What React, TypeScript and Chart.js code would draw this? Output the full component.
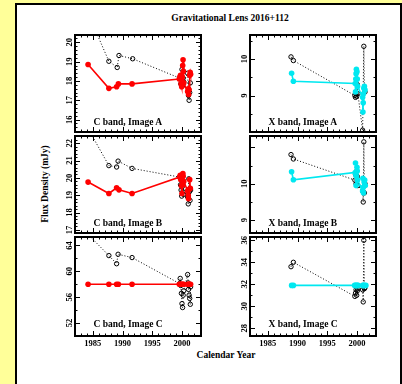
import React, { useEffect, useRef } from "react";
import { Chart, registerables } from "chart.js";

Chart.register(...registerables);

// ---------- tick labels ----------
const xTickYears = [1985, 1990, 1995, 2000];
const caTicks = [16, 17, 18, 19, 20];
const cbTicks = [17, 18, 19, 20, 21, 22];
const ccTicks = [52, 56, 60, 64];
const xaTicks = [9, 10];
const xbTicks = [9, 10];
const xcTicks = [28, 30, 32, 34, 36];

// ---------- C band, image A ----------
const caFitYears = [1984.2, 1987.7, 1989.0, 1989.3, 1991.6, 1999.55, 1999.65, 1999.75, 1999.85, 1999.95, 2000.05, 2000.12, 2000.18, 2000.25, 2000.3, 2000.95, 2001.05, 2001.12, 2001.2, 2001.3, 2001.38, 2001.45];
const caFitFlux = [18.85, 17.62, 17.7, 17.85, 17.85, 18.1, 18.2, 18.3, 17.85, 17.7, 18.2, 18.8, 19.1, 18.5, 17.9, 17.45, 17.6, 17.3, 17.55, 18.3, 18.45, 18.35];
const caObsYears = [1984.2, 1987.7, 1989.1, 1989.4, 1991.7, 1999.6, 1999.8, 2000.0, 2000.1, 2000.2, 2000.3, 2000.95, 2001.05, 2001.1, 2001.2, 2001.3, 2001.4];
const caObsFlux = [21.5, 19.02, 18.7, 19.32, 19.15, 18.15, 17.85, 18.6, 17.75, 18.15, 17.95, 18.4, 17.45, 17.25, 17.0, 17.4, 17.9];

// ---------- C band, image B ----------
const cbFitYears = [1984.2, 1987.7, 1989.0, 1989.4, 1991.6, 1999.6, 1999.7, 1999.8, 1999.9, 2000.0, 2000.1, 2000.15, 2000.2, 2000.3, 2000.95, 2001.05, 2001.1, 2001.2, 2001.3, 2001.4];
const cbFitFlux = [19.76, 19.1, 19.43, 19.31, 19.1, 20.05, 20.15, 19.9, 19.55, 19.1, 19.6, 20.25, 20.1, 19.8, 19.25, 19.0, 18.8, 19.35, 19.9, 19.4];
const cbObsYears = [1984.2, 1987.7, 1989.0, 1989.25, 1991.6, 1999.6, 1999.75, 1999.85, 1999.95, 2000.05, 2000.15, 2000.25, 2000.95, 2001.05, 2001.15, 2001.25, 2001.35, 2001.45];
const cbObsFlux = [22.85, 20.71, 20.63, 20.97, 20.55, 20.05, 19.6, 19.3, 18.95, 19.5, 19.2, 19.05, 18.9, 18.5, 19.95, 19.2, 18.7, 19.3];

// ---------- C band, image C ----------
const ccFitYears = [1984.2, 1987.7, 1989.0, 1989.3, 1991.6, 1999.55, 1999.7, 1999.85, 2000.0, 2000.15, 2000.3, 2000.95, 2001.1, 2001.25, 2001.45];
const ccFitFlux = [58.0, 58.0, 58.0, 58.0, 58.0, 58.0, 58.0, 58.0, 58.0, 58.0, 58.0, 58.0, 58.0, 58.0, 58.0];
const ccObsYears = [1984.2, 1987.7, 1989.0, 1989.25, 1991.6, 1999.6, 1999.7, 1999.8, 1999.9, 2000.0, 2000.1, 2000.2, 2000.3, 2000.95, 2001.05, 2001.1, 2001.2, 2001.3, 2001.4, 2001.45];
const ccObsFlux = [65.7, 62.43, 61.17, 62.63, 62.12, 58.1, 58.9, 57.8, 56.6, 55.0, 54.4, 56.3, 57.0, 59.5, 58.2, 57.2, 56.3, 55.8, 54.9, 57.6];

// ---------- X band, image A ----------
const xaFitYears = [1989.0, 1989.3, 1999.7, 1999.75, 1999.8, 1999.85, 1999.9, 2000.0, 2000.05, 2000.1, 2000.95, 2001.0, 2001.05, 2001.1, 2001.15, 2001.25, 2001.35];
const xaFitFlux = [9.61, 9.39, 9.33, 9.1, 9.45, 9.6, 9.72, 9.65, 9.45, 9.25, 8.95, 8.55, 8.8, 9.05, 9.2, 9.25, 9.15];
const xaObsYears = [1988.9, 1989.3, 1999.65, 1999.75, 1999.85, 1999.95, 2000.05, 2000.15, 2000.95, 2001.15, 2001.25, 2001.35];
const xaObsFlux = [10.06, 9.96, 9.0, 8.95, 9.05, 8.98, 9.3, 9.05, 8.05, 10.35, 9.2, 9.1];

// ---------- X band, image B ----------
const xbFitYears = [1989.0, 1989.3, 1999.7, 1999.75, 1999.8, 1999.85, 1999.9, 2000.0, 2000.05, 2000.1, 2000.95, 2001.0, 2001.05, 2001.1, 2001.2, 2001.3, 2001.4];
const xbFitFlux = [10.33, 10.11, 10.31, 10.57, 10.25, 9.95, 10.2, 10.45, 10.35, 10.1, 9.8, 10.15, 9.9, 9.75, 10.05, 10.1, 9.95];
const xbObsYears = [1988.9, 1989.3, 1999.65, 1999.75, 1999.85, 1999.95, 2000.05, 2000.15, 2000.95, 2001.05, 2001.15, 2001.25, 2001.35];
const xbObsFlux = [10.8, 10.68, 10.1, 10.25, 10.0, 10.35, 10.2, 9.95, 9.8, 9.5, 11.15, 9.75, 10.0];

// ---------- X band, image C ----------
const xcFitYears = [1989.0, 1989.3, 1999.6, 1999.75, 1999.9, 2000.05, 2000.2, 2000.95, 2001.1, 2001.25, 2001.5];
const xcFitFlux = [31.9, 31.9, 31.9, 31.9, 31.9, 31.9, 31.9, 31.9, 31.9, 31.9, 31.9];
const xcObsYears = [1988.9, 1989.3, 1999.65, 1999.75, 1999.85, 1999.95, 2000.05, 2000.15, 2000.95, 2001.05, 2001.15, 2001.25, 2001.35];
const xcObsFlux = [33.6, 34.0, 30.9, 31.2, 31.5, 31.0, 31.4, 31.6, 31.5, 30.4, 36.0, 31.6, 31.7];

// ---------- layout / style ----------
const FONT = "'Liberation Serif', 'Times New Roman', serif";
const RED = "#ff0000";
const CYAN = "#00e8f0";
const PLOT_W = 128;
const PLOT_H = 101;
const COL_LEFT = [75, 250];
const ROW_TOP = [33, 134, 235];
const AXIS_W = 30;
const X_MIN = 1982;
const X_MAX = 2003.2;

type Panel = {
  col: number;
  row: number;
  yMin: number;
  yMax: number;
  yTicks: number[];
  minorY: number;
  majorY: number;
  color: string;
  label: string;
  fitYears: number[];
  fitFlux: number[];
  obsYears: number[];
  obsFlux: number[];
};

const panels: Panel[] = [
  { col: 0, row: 0, yMin: 15.36, yMax: 20.38, yTicks: caTicks, minorY: 0.2, majorY: 1, color: RED, label: "C band, Image A", fitYears: caFitYears, fitFlux: caFitFlux, obsYears: caObsYears, obsFlux: caObsFlux },
  { col: 0, row: 1, yMin: 16.82, yMax: 22.42, yTicks: cbTicks, minorY: 0.2, majorY: 1, color: RED, label: "C band, Image B", fitYears: cbFitYears, fitFlux: cbFitFlux, obsYears: cbObsYears, obsFlux: cbObsFlux },
  { col: 0, row: 2, yMin: 50.0, yMax: 65.3, yTicks: ccTicks, minorY: 2, majorY: 4, color: RED, label: "C band, Image C", fitYears: ccFitYears, fitFlux: ccFitFlux, obsYears: ccObsYears, obsFlux: ccObsFlux },
  { col: 1, row: 0, yMin: 8.0, yMax: 10.66, yTicks: xaTicks, minorY: 0.5, majorY: 1, color: CYAN, label: "X band, Image A", fitYears: xaFitYears, fitFlux: xaFitFlux, obsYears: xaObsYears, obsFlux: xaObsFlux },
  { col: 1, row: 1, yMin: 8.65, yMax: 11.31, yTicks: xbTicks, minorY: 0.5, majorY: 1, color: CYAN, label: "X band, Image B", fitYears: xbFitYears, fitFlux: xbFitFlux, obsYears: xbObsYears, obsFlux: xbObsFlux },
  { col: 1, row: 2, yMin: 27.3, yMax: 36.3, yTicks: xcTicks, minorY: 1, majorY: 2, color: CYAN, label: "X band, Image C", fitYears: xcFitYears, fitFlux: xcFitFlux, obsYears: xcObsYears, obsFlux: xcObsFlux },
];

const framePlugin = {
  id: "pgframe",
  afterDraw(chart: any) {
    const { ctx, chartArea: a, scales } = chart;
    const cfg = chart.options.plugins.pgframe;
    ctx.save();
    ctx.strokeStyle = "#000";
    ctx.lineWidth = 1;
    const draw = (scale: any, minor: number, major: number, horiz: boolean) => {
      const start = Math.ceil(scale.min / minor - 1e-6);
      const end = Math.floor(scale.max / minor + 1e-6);
      for (let k = start; k <= end; k++) {
        const v = k * minor;
        const r = v / major;
        const isMajor = Math.abs(r - Math.round(r)) < 1e-6;
        const len = isMajor ? 5 : 2.5;
        const p = Math.round(scale.getPixelForValue(v)) + 0.5;
        ctx.beginPath();
        if (horiz) {
          ctx.moveTo(p, a.bottom);
          ctx.lineTo(p, a.bottom - len);
          ctx.moveTo(p, a.top);
          ctx.lineTo(p, a.top + len);
        } else {
          ctx.moveTo(a.left, p);
          ctx.lineTo(a.left + len, p);
          ctx.moveTo(a.right, p);
          ctx.lineTo(a.right - len, p);
        }
        ctx.stroke();
      }
    };
    draw(scales.x, 1, 5, true);
    draw(scales.y, cfg.minorY, cfg.majorY, false);
    ctx.lineWidth = 2;
    ctx.strokeRect(a.left, a.top, a.right - a.left, a.bottom - a.top);
    ctx.restore();
  },
};

function PanelChart({ p }: { p: Panel }) {
  const ref = useRef<HTMLCanvasElement>(null);
  const bottomRow = p.row === 2;
  const width = AXIS_W + PLOT_W + 3;
  const height = 3 + PLOT_H + (bottomRow ? 20 : 3);

  useEffect(() => {
    if (!ref.current) return;
    const tickFont = { family: FONT, size: 8.5, weight: "bold" as const };
    const chart = new Chart(ref.current, {
      type: "line",
      data: {
        datasets: [
          {
            data: p.fitYears.map((x, i) => ({ x, y: p.fitFlux[i] })),
            borderColor: p.color,
            backgroundColor: p.color,
            borderWidth: 1.6,
            pointRadius: 2.8,
            pointBorderWidth: 0,
            pointBackgroundColor: p.color,
            tension: 0,
            clip: 0,
          },
          {
            data: p.obsYears.map((x, i) => ({ x, y: p.obsFlux[i] })),
            borderColor: "#000",
            borderWidth: 1,
            borderDash: [1, 2],
            pointRadius: 2.2,
            pointBorderWidth: 1,
            pointBorderColor: "#000",
            pointBackgroundColor: "rgba(0,0,0,0)",
            tension: 0,
            clip: 0,
          },
        ],
      },
      options: {
        animation: false,
        responsive: false,
        devicePixelRatio: 1,
        events: [],
        layout: { padding: { top: 3, right: 3, left: 0, bottom: bottomRow ? 0 : 3 } },
        plugins: {
          legend: { display: false },
          tooltip: { enabled: false },
          // @ts-ignore
          pgframe: { minorY: p.minorY, majorY: p.majorY },
        },
        scales: {
          x: {
            type: "linear",
            min: X_MIN,
            max: X_MAX,
            afterBuildTicks: (s: any) => {
              s.ticks = xTickYears.map((v) => ({ value: v }));
            },
            ticks: {
              display: bottomRow,
              autoSkip: false,
              maxRotation: 0,
              minRotation: 0,
              padding: 3,
              color: "#000",
              font: tickFont,
              callback: (v: any) => String(v),
            },
            grid: { display: false, drawTicks: false, tickLength: 0 },
            border: { display: false },
            afterFit: (s: any) => {
              s.height = bottomRow ? 20 : 0;
              s.paddingLeft = 0;
              s.paddingRight = 0;
            },
          },
          y: {
            type: "linear",
            min: p.yMin,
            max: p.yMax,
            afterBuildTicks: (s: any) => {
              s.ticks = p.yTicks.map((v) => ({ value: v }));
            },
            ticks: {
              autoSkip: false,
              minRotation: 90,
              maxRotation: 90,
              crossAlign: "center",
              padding: 1,
              color: "#000",
              font: tickFont,
              callback: (v: any) => String(v),
            },
            grid: { display: false, drawTicks: false, tickLength: 0 },
            border: { display: false },
            afterFit: (s: any) => {
              s.width = AXIS_W;
              s.paddingTop = 0;
              s.paddingBottom = 0;
            },
          },
        },
      },
      plugins: [framePlugin],
    } as any);
    return () => chart.destroy();
  }, [p]);

  return (
    <canvas
      ref={ref}
      width={width}
      height={height}
      style={{
        position: "absolute",
        left: COL_LEFT[p.col] - AXIS_W,
        top: ROW_TOP[p.row] - 3,
        width,
        height,
      }}
    />
  );
}

const textBase: React.CSSProperties = {
  position: "absolute",
  fontFamily: FONT,
  fontWeight: "bold",
  color: "#000",
  whiteSpace: "nowrap",
  lineHeight: 1,
};

export default function App() {
  return (
    <div
      style={{
        position: "absolute",
        left: 0,
        top: 0,
        width: 402,
        height: 384,
        overflow: "hidden",
        background: "#ffff99",
      }}
    >
      <div
        style={{
          position: "absolute",
          left: 15,
          top: 3,
          width: 387,
          height: 400,
          boxSizing: "border-box",
          border: "2px solid #000",
          background: "#fff",
        }}
      />
      <div style={{ ...textBase, left: 230, top: 19, fontSize: 9.5, transform: "translate(-50%,-50%)" }}>
        Gravitational Lens 2016+112
      </div>
      <div style={{ ...textBase, left: 46, top: 184, fontSize: 9.5, transform: "translate(-50%,-50%) rotate(-90deg)" }}>
        Flux Density (mJy)
      </div>
      <div style={{ ...textBase, left: 226, top: 356, fontSize: 9.5, transform: "translate(-50%,-50%)" }}>
        Calendar Year
      </div>
      {panels.map((p, i) => (
        <PanelChart key={i} p={p} />
      ))}
      {panels.map((p, i) => (
        <div
          key={"l" + i}
          style={{
            ...textBase,
            left: COL_LEFT[p.col] + 18.5,
            top: ROW_TOP[p.row] + PLOT_H - 11.5,
            fontSize: 9.5,
            transform: "translateY(-50%)",
          }}
        >
          {p.label}
        </div>
      ))}
    </div>
  );
}
